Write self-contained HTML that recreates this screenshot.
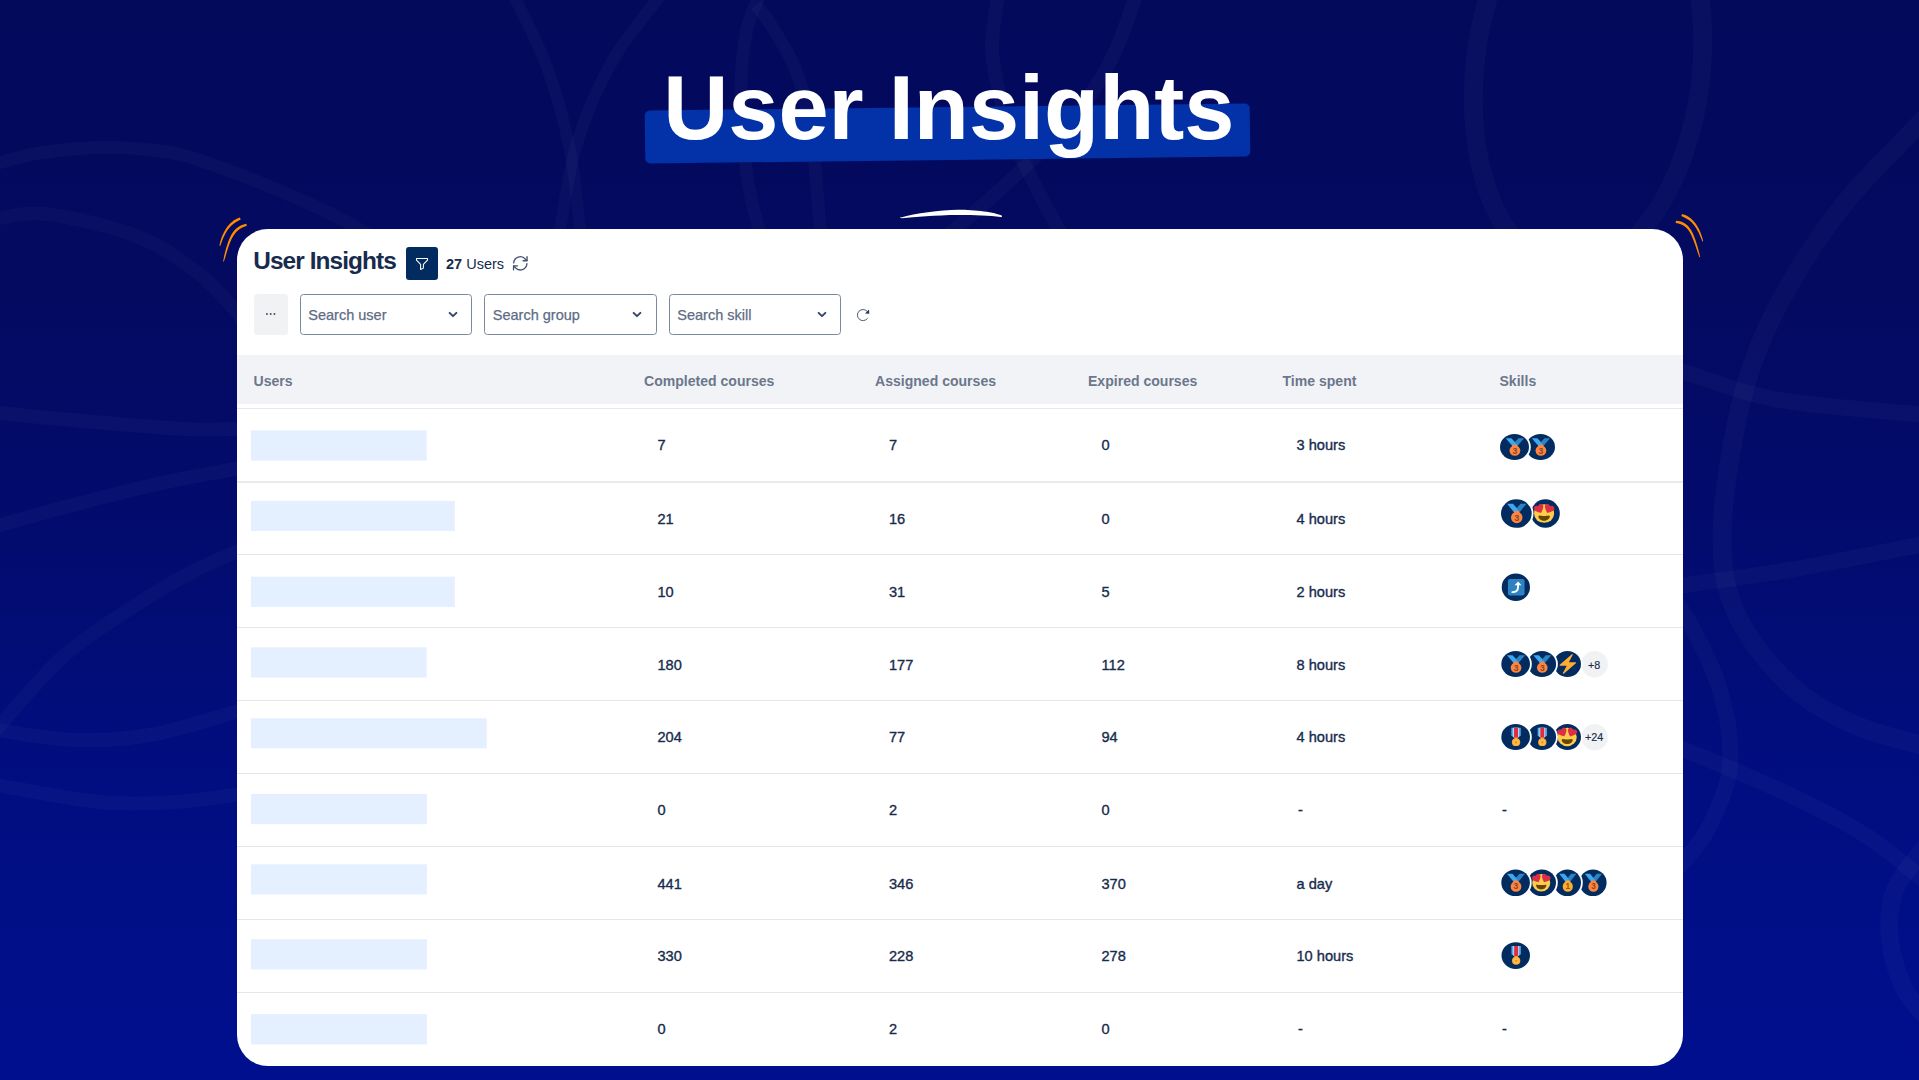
<!DOCTYPE html>
<html lang="en">
<head>
<meta charset="utf-8">
<title>User Insights</title>
<style>
*{box-sizing:border-box;margin:0;padding:0}
html,body{width:1919px;height:1080px;overflow:hidden}
body{position:relative;font-family:"Liberation Sans",sans-serif;background:linear-gradient(180deg,#030a5c 0%,#030a60 28%,#020c70 52%,#010e82 75%,#000f8e 100%);color:#172b4d}
.abs{position:absolute}
#bg{position:absolute;left:0;top:0;width:1919px;height:1080px}
#hl{position:absolute;left:645px;top:107px;width:605px;height:53px;background:#0231a8;border-radius:5px;transform:rotate(-0.66deg)}
#title{position:absolute;left:-10.700px;top:56px;width:1919px;text-align:center;font-size:90.200px;font-weight:700;color:#fff;line-height:104px;letter-spacing:0;white-space:nowrap}
#card{position:absolute;left:237px;top:229px;width:1446px;height:836.5px;background:#fff;border-radius:31px;overflow:hidden}
#card .in{position:absolute;left:-237px;top:-229px;width:1919px;height:1080px}
.h1{position:absolute;left:253.200px;top:246.200px;font-size:24.400px;font-weight:700;line-height:30px;letter-spacing:-0.900px;color:#172b4d;white-space:nowrap}
.fbtn{position:absolute;left:405.800px;top:247.200px;width:32px;height:32.600px;background:#022c60;border-radius:3px}
.cnt{position:absolute;left:446px;top:254px;font-size:14.5px;line-height:20px;color:#172b4d;white-space:nowrap}
.cnt b{font-weight:700}
.dots{position:absolute;left:253.800px;top:294.300px;width:34px;height:40.500px;background:#f1f2f4;border-radius:3px}
.sel{position:absolute;top:294px;width:172.5px;height:40.5px;border:1.700px solid #7b889f;border-radius:3.5px;background:#fff}
.sel span{position:absolute;left:7.800px;top:9.700px;font-size:14.5px;line-height:20px;color:#5e6c84;white-space:nowrap;-webkit-text-stroke:0.250px #5e6c84}
.sel svg{position:absolute;left:147.300px;top:16.100px}
.thead{position:absolute;left:237px;top:355px;width:1446px;height:49px;background:#f2f3f7}
.th{position:absolute;top:370.5px;font-size:14.050px;font-weight:700;line-height:20px;color:#6b778c;white-space:nowrap}
.ln{position:absolute;left:237px;width:1446px;height:1.5px;background:#e6e8ed}
.blk{position:absolute;left:251px;height:30px;background:#e4efff}
.v{position:absolute;font-size:14.6px;line-height:20px;color:#172b4d;white-space:nowrap;-webkit-text-stroke:0.35px #172b4d}
.sk{position:absolute}
</style>
</head>
<body>
<svg id="bg" viewBox="0 0 1919 1080" fill="none">
<g stroke="#ffffff" stroke-opacity=".029" fill="none" stroke-linecap="butt"><path d="M-12.0,168.0 C-10.0,167.1 -8.7,165.0 0.0,162.5 C8.7,160.0 23.3,155.5 40.0,153.0 C56.7,150.5 80.0,147.8 100.0,147.5 C120.0,147.2 142.0,148.4 160.0,151.0 C178.0,153.6 184.5,154.8 208.0,163.0 C231.5,171.2 275.5,188.8 301.0,200.0 C326.5,211.2 341.2,218.3 361.0,230.0 C380.8,241.7 410.2,263.3 420.0,270.0" stroke-width="13"/><path d="M-10.0,220.0 C-0.7,219.0 21.2,211.2 46.0,214.0 C70.8,216.8 113.5,227.0 139.0,237.0 C164.5,247.0 182.8,261.7 199.0,274.0 C215.2,286.3 225.8,299.2 236.0,311.0 C246.2,322.8 256.0,339.3 260.0,345.0" stroke-width="14"/><path d="M-10.0,412.0 C7.2,413.7 60.5,419.2 93.0,422.0 C125.5,424.8 161.2,427.8 185.0,429.0 C208.8,430.2 216.8,429.3 236.0,429.0 C255.2,428.7 289.3,427.3 300.0,427.0" stroke-width="14"/><path d="M-10.0,528.0 C3.2,524.3 40.3,513.5 69.0,506.0 C97.7,498.5 134.2,489.2 162.0,483.0 C189.8,476.8 213.0,473.2 236.0,469.0 C259.0,464.8 289.3,459.8 300.0,458.0" stroke-width="14"/><path d="M300.0,525.0 C289.3,529.5 253.7,544.3 236.0,552.0 C218.3,559.7 210.2,562.5 194.0,571.0 C177.8,579.5 160.5,589.0 139.0,603.0 C117.5,617.0 88.2,634.7 65.0,655.0 C41.8,675.3 12.5,711.2 0.0,725.0 C-12.5,738.8 -8.3,735.8 -10.0,738.0" stroke-width="14"/><path d="M-10.0,729.0 C4.2,730.8 48.3,739.0 75.0,740.0 C101.7,741.0 123.3,739.7 150.0,735.0 C176.7,730.3 210.0,719.5 235.0,712.0 C260.0,704.5 289.2,693.7 300.0,690.0" stroke-width="14"/><path d="M-10.0,784.0 C8.3,787.0 69.2,799.0 100.0,802.0 C130.8,805.0 152.5,803.2 175.0,802.0 C197.5,800.8 214.2,797.8 235.0,795.0 C255.8,792.2 289.2,786.7 300.0,785.0" stroke-width="14"/><path d="M511.0,-10.0 C517.0,2.8 537.2,40.3 547.0,67.0 C556.8,93.7 564.5,122.8 570.0,150.0 C575.5,177.2 577.8,211.7 580.0,230.0 C582.2,248.3 582.5,255.0 583.0,260.0" stroke-width="12"/><path d="M665.0,-10.0 C656.3,1.7 627.7,34.5 613.0,60.0 C598.3,85.5 585.8,114.7 577.0,143.0 C568.2,171.3 563.5,210.5 560.0,230.0 C556.5,249.5 556.7,255.0 556.0,260.0" stroke-width="12"/><path d="M762.0,-10.0 C759.5,-3.5 750.5,12.7 747.0,29.0 C743.5,45.3 741.0,63.7 741.0,88.0 C741.0,112.3 744.0,151.3 747.0,175.0 C750.0,198.7 755.5,215.8 759.0,230.0 C762.5,244.2 766.5,255.0 768.0,260.0" stroke-width="13"/><path d="M756.0,5.0 C758.8,8.8 766.2,16.7 773.0,28.0 C779.8,39.3 790.7,55.8 797.0,73.0 C803.3,90.2 807.7,111.5 811.0,131.0 C814.3,150.5 815.5,173.5 817.0,190.0 C818.5,206.5 819.3,218.3 820.0,230.0 C820.7,241.7 820.8,255.0 821.0,260.0" stroke-width="13"/><path d="M999.0,-10.0 C997.8,-1.0 992.2,27.7 992.0,44.0 C991.8,60.3 995.0,73.5 998.0,88.0 C1001.0,102.5 1004.7,116.5 1010.0,131.0 C1015.3,145.5 1021.8,158.5 1030.0,175.0 C1038.2,191.5 1051.0,215.8 1059.0,230.0 C1067.0,244.2 1074.8,255.0 1078.0,260.0" stroke-width="14"/><path d="M1138.0,-10.0 C1133.7,1.3 1122.7,36.8 1112.0,58.0 C1101.3,79.2 1090.0,97.5 1074.0,117.0 C1058.0,136.5 1036.0,156.2 1016.0,175.0 C996.0,193.8 970.0,216.2 954.0,230.0 C938.0,243.8 925.7,253.3 920.0,258.0" stroke-width="14"/><path d="M1929.0,114.0 C1915.7,128.0 1871.0,171.7 1849.0,198.0 C1827.0,224.3 1812.2,246.8 1797.0,272.0 C1781.8,297.2 1768.3,322.7 1758.0,349.0 C1747.7,375.3 1741.0,398.2 1735.0,430.0 C1729.0,461.8 1721.7,509.2 1722.0,540.0 C1722.3,570.8 1725.7,590.8 1737.0,615.0 C1748.3,639.2 1770.3,666.7 1790.0,685.0 C1809.7,703.3 1831.8,714.7 1855.0,725.0 C1878.2,735.3 1916.7,743.3 1929.0,747.0" stroke-width="19"/><path d="M1660.0,368.0 C1664.5,368.8 1667.2,367.7 1687.0,373.0 C1706.8,378.3 1738.7,393.0 1779.0,400.0 C1819.3,407.0 1904.0,412.5 1929.0,415.0" stroke-width="16"/><path d="M1660.0,590.0 C1664.2,589.2 1663.3,588.3 1685.0,585.0 C1706.7,581.7 1749.3,577.0 1790.0,570.0 C1830.7,563.0 1905.8,547.5 1929.0,543.0" stroke-width="16"/><path d="M1660.0,590.0 C1664.2,594.2 1675.0,598.3 1685.0,615.0 C1695.0,631.7 1712.5,665.0 1720.0,690.0 C1727.5,715.0 1731.7,742.5 1730.0,765.0 C1728.3,787.5 1717.5,809.2 1710.0,825.0 C1702.5,840.8 1693.3,850.0 1685.0,860.0 C1676.7,870.0 1664.2,880.8 1660.0,885.0" stroke-width="16"/><path d="M1660.0,742.0 C1664.2,743.3 1663.3,741.2 1685.0,750.0 C1706.7,758.8 1760.0,780.8 1790.0,795.0 C1820.0,809.2 1841.8,820.2 1865.0,835.0 C1888.2,849.8 1918.3,875.8 1929.0,884.0" stroke-width="16"/><path d="M1929.0,842.0 C1923.3,850.0 1901.5,873.7 1895.0,890.0 C1888.5,906.3 1888.3,923.3 1890.0,940.0 C1891.7,956.7 1898.5,976.7 1905.0,990.0 C1911.5,1003.3 1925.0,1015.0 1929.0,1020.0" stroke-width="18"/><ellipse cx="1588" cy="70" rx="113" ry="200" stroke-width="19" transform="rotate(7 1588 70)"/></g>
</svg>
<div id="hl"></div>
<div id="title">User Insights</div>
<svg class="abs" style="left:895px;top:205px" width="115" height="16" viewBox="895 205 115 16"><path d="M901,217.600 C915,213.500 940,209.900 958,209.800 C975,209.800 995,212.300 1002,215.800 C1002.300,216.600 1001.500,217.300 1000.500,217.100 C990,215.600 975,215.100 958,215.100 C935,215.200 915,217.200 902,218.200 C900.800,218.300 900.400,217.900 901,217.600Z" fill="#fff"/></svg>
<svg class="abs" style="left:212px;top:208px" width="44" height="60" viewBox="212 208 44 60" fill="#ff8c00"><path d="M239.91,217.47 L237.81,218.17 L235.81,219.14 L233.93,220.34 L232.13,221.71 L230.42,223.25 L228.79,224.96 L227.26,226.85 L225.82,228.93 L224.47,231.20 L223.22,233.67 L222.06,236.34 L221.01,239.22 L220.08,242.32 L219.41,245.70 L220.19,245.90 L221.41,242.74 L222.53,239.77 L223.70,237.03 L224.93,234.51 L226.23,232.21 L227.59,230.12 L229.02,228.22 L230.51,226.52 L232.06,225.00 L233.68,223.65 L235.35,222.46 L237.10,221.43 L238.88,220.47 L240.69,219.53Z"/><path d="M246.35,223.73 L243.41,224.41 L240.74,225.49 L238.36,226.91 L236.22,228.61 L234.30,230.59 L232.58,232.84 L231.04,235.36 L229.65,238.16 L228.38,241.25 L227.20,244.64 L226.09,248.33 L225.02,252.34 L223.98,256.68 L223.11,261.41 L223.89,261.59 L225.34,257.03 L226.58,252.76 L227.79,248.84 L229.01,245.25 L230.27,242.00 L231.58,239.07 L232.98,236.46 L234.48,234.17 L236.10,232.18 L237.85,230.47 L239.78,229.03 L241.91,227.83 L244.25,226.80 L246.85,225.87Z"/></svg>
<svg class="abs" style="left:1668px;top:208px" width="44" height="60" viewBox="1668 208 44 60" fill="#ff8c00"><path d="M1681.35,216.04 L1683.35,216.98 L1685.26,217.92 L1687.08,218.92 L1688.80,220.06 L1690.43,221.35 L1691.97,222.80 L1693.44,224.42 L1694.84,226.23 L1696.18,228.24 L1697.47,230.44 L1698.71,232.87 L1699.91,235.51 L1701.09,238.37 L1702.42,241.42 L1703.18,241.18 L1702.41,237.91 L1701.41,234.91 L1700.33,232.14 L1699.17,229.57 L1697.93,227.20 L1696.60,225.02 L1695.18,223.03 L1693.66,221.21 L1692.03,219.56 L1690.29,218.08 L1688.44,216.76 L1686.46,215.59 L1684.33,214.65 L1682.05,213.96Z"/><path d="M1675.67,222.89 L1678.39,223.53 L1680.78,224.30 L1682.91,225.26 L1684.82,226.48 L1686.55,228.00 L1688.14,229.83 L1689.62,232.00 L1691.01,234.53 L1692.35,237.41 L1693.65,240.66 L1694.96,244.27 L1696.30,248.26 L1697.73,252.62 L1699.42,257.31 L1700.18,257.09 L1699.06,252.22 L1697.85,247.79 L1696.65,243.72 L1695.45,240.01 L1694.22,236.64 L1692.93,233.60 L1691.53,230.87 L1690.00,228.45 L1688.28,226.34 L1686.34,224.53 L1684.16,223.03 L1681.71,221.85 L1678.97,221.07 L1675.93,220.71Z"/></svg>
<div id="card"><div class="in">
<div class="h1">User Insights</div>
<div class="fbtn"><svg class="abs" style="left:9px;top:10px" width="14" height="14" viewBox="0 0 16 16" fill="none" stroke="#fff" stroke-width="1.200" stroke-linejoin="round"><path d="M1.700 1.700h12.600v1.900l-4.700 4.700v4.400l-3.200 1.600v-6L1.700 3.600z"/></svg></div>
<div class="cnt"><b>27</b> Users</div>
<svg class="abs" style="left:511.300px;top:254.300px" width="18.600" height="18.600" viewBox="0 0 16 16" fill="none" stroke="#42526e" stroke-width="1.150" stroke-linecap="round" stroke-linejoin="round"><path d="M2.300 7.600a5.700 5.700 0 0 1 10-3.300l1.400 1.400"/><path d="M13.800 2.400v3.400h-3.400"/><path d="M13.700 8.400a5.700 5.700 0 0 1-10 3.300l-1.400-1.400"/><path d="M2.200 13.600v-3.400h3.400"/></svg>
<div class="dots"><svg class="abs" style="left:10.800px;top:18px" width="11.600" height="4.200" viewBox="0 0 11 4"><circle cx="1.800" cy="2" r="0.950" fill="#42526e"/><circle cx="5.400" cy="2" r="0.950" fill="#42526e"/><circle cx="9" cy="2" r="0.950" fill="#42526e"/></svg></div>
<div class="sel" style="left:299.5px"><span>Search user</span><svg width="10" height="8" viewBox="0 0 10 8" fill="none" stroke="#344563" stroke-width="1.900" stroke-linecap="round" stroke-linejoin="round"><path d="M1.600 1.800L5 5.200 8.400 1.800"/></svg></div>
<div class="sel" style="left:484px"><span>Search group</span><svg width="10" height="8" viewBox="0 0 10 8" fill="none" stroke="#344563" stroke-width="1.900" stroke-linecap="round" stroke-linejoin="round"><path d="M1.600 1.800L5 5.200 8.400 1.800"/></svg></div>
<div class="sel" style="left:668.5px"><span>Search skill</span><svg width="10" height="8" viewBox="0 0 10 8" fill="none" stroke="#344563" stroke-width="1.900" stroke-linecap="round" stroke-linejoin="round"><path d="M1.600 1.800L5 5.200 8.400 1.800"/></svg></div>
<svg class="abs" style="left:855px;top:307px" width="16" height="16" viewBox="0 0 16 16"><path d="M12.400 11.600A5.600 5.600 0 1 1 12.100 4.200" fill="none" stroke="#4c5b76" stroke-width="1" stroke-linecap="round"/><path d="M10 6.500L14 2.500 14.300 6.800z" fill="#253858"/></svg>
<div class="thead"></div>
<div class="th" style="left:253.5px">Users</div>
<div class="th" style="left:644px">Completed courses</div>
<div class="th" style="left:875px">Assigned courses</div>
<div class="th" style="left:1088px">Expired courses</div>
<div class="th" style="left:1282.5px">Time spent</div>
<div class="th" style="left:1499.5px">Skills</div>
<div class="ln" style="top:407.6px"></div>
<div class="ln" style="top:481.3px;background:#e8eaee"></div>
<div class="ln" style="top:553.7px;height:1.300px;background:#e4e6eb"></div>
<div class="ln" style="top:626.5px;height:1.300px;background:#e4e6eb"></div>
<div class="ln" style="top:699.85px;height:1.300px;background:#e4e6eb"></div>
<div class="ln" style="top:772.6px;height:1.300px;background:#e4e6eb"></div>
<div class="ln" style="top:845.8px;height:1.300px;background:#e4e6eb"></div>
<div class="ln" style="top:918.7px;height:1.300px;background:#e4e6eb"></div>
<div class="ln" style="top:991.5px;height:1.300px;background:#e4e6eb"></div>
<svg class="abs" style="left:240px;top:420px" width="260" height="640" viewBox="240 420 260 640"><rect x="251" y="430.4" width="175.7" height="30.2" fill="#e4efff"/><rect x="251" y="500.9" width="203.8" height="30.1" fill="#e4efff"/><rect x="251" y="576.7" width="203.8" height="30.3" fill="#e4efff"/><rect x="251" y="647.3" width="175.7" height="30.2" fill="#e4efff"/><rect x="251" y="718.3" width="235.7" height="30.0" fill="#e4efff"/><rect x="251" y="793.9" width="175.9" height="30.3" fill="#e4efff"/><rect x="251" y="864.3" width="175.9" height="30.2" fill="#e4efff"/><rect x="251" y="939.2" width="175.9" height="30.2" fill="#e4efff"/><rect x="251" y="1014.1" width="175.9" height="30.3" fill="#e4efff"/></svg>
<div class="v" style="left:657.5px;top:435.0px">7</div>
<div class="v" style="left:889px;top:435.0px">7</div>
<div class="v" style="left:1101.5px;top:435.0px">0</div>
<div class="v" style="left:1296.5px;top:435.0px">3 hours</div>
<div class="v" style="left:657.5px;top:509.40000000000003px">21</div>
<div class="v" style="left:889px;top:509.40000000000003px">16</div>
<div class="v" style="left:1101.5px;top:509.40000000000003px">0</div>
<div class="v" style="left:1296.5px;top:509.40000000000003px">4 hours</div>
<div class="v" style="left:657.5px;top:582.0999999999999px">10</div>
<div class="v" style="left:889px;top:582.0999999999999px">31</div>
<div class="v" style="left:1101.5px;top:582.0999999999999px">5</div>
<div class="v" style="left:1296.5px;top:582.0999999999999px">2 hours</div>
<div class="v" style="left:657.5px;top:654.9px">180</div>
<div class="v" style="left:889px;top:654.9px">177</div>
<div class="v" style="left:1101.5px;top:654.9px">112</div>
<div class="v" style="left:1296.5px;top:654.9px">8 hours</div>
<div class="v" style="left:657.5px;top:727.0px">204</div>
<div class="v" style="left:889px;top:727.0px">77</div>
<div class="v" style="left:1101.5px;top:727.0px">94</div>
<div class="v" style="left:1296.5px;top:727.0px">4 hours</div>
<div class="v" style="left:657.5px;top:800.0px">0</div>
<div class="v" style="left:889px;top:800.0px">2</div>
<div class="v" style="left:1101.5px;top:800.0px">0</div>
<div class="v" style="left:1298.0px;top:800.0px">-</div>
<div class="v" style="left:1502px;top:800.0px">-</div>
<div class="v" style="left:657.5px;top:874.0px">441</div>
<div class="v" style="left:889px;top:874.0px">346</div>
<div class="v" style="left:1101.5px;top:874.0px">370</div>
<div class="v" style="left:1296.5px;top:874.0px">a day</div>
<div class="v" style="left:657.5px;top:946.0px">330</div>
<div class="v" style="left:889px;top:946.0px">228</div>
<div class="v" style="left:1101.5px;top:946.0px">278</div>
<div class="v" style="left:1296.5px;top:946.0px">10 hours</div>
<div class="v" style="left:657.5px;top:1019.0px">0</div>
<div class="v" style="left:889px;top:1019.0px">2</div>
<div class="v" style="left:1101.5px;top:1019.0px">0</div>
<div class="v" style="left:1298.0px;top:1019.0px">-</div>
<div class="v" style="left:1502px;top:1019.0px">-</div>
<svg class="abs" style="left:1480px;top:420px" width="160" height="600" viewBox="1480 420 160 600"><ellipse cx="1540.50" cy="447.00" rx="16.30" ry="14.80" fill="#fff"/><ellipse cx="1540.50" cy="447.00" rx="14.50" ry="13.00" fill="#022c60"/><g transform="translate(1531.77 438.16) scale(0.5075 0.4911)"><g><path d="M18 8l-7-8H0l14 17 11.500-4.750z" fill="#3fa7ef"/><path d="M25 0l-7 8 5.400 7.300 1.200-1.500L36 0z" fill="#2b83c3"/><rect x="12.670" y="13.330" width="10.670" height="4.500" rx="2" fill="#fd8540"/><circle cx="18" cy="25.330" r="10.670" fill="#fd8540"/><text x="18" y="31.400" text-anchor="middle" font-family="Liberation Sans, sans-serif" font-weight="700" font-size="17" fill="#8f4420">3</text></g></g><ellipse cx="1514.50" cy="447.00" rx="16.30" ry="14.80" fill="#fff"/><ellipse cx="1514.50" cy="447.00" rx="14.50" ry="13.00" fill="#022c60"/><g transform="translate(1505.77 438.16) scale(0.5075 0.4911)"><g><path d="M18 8l-7-8H0l14 17 11.500-4.750z" fill="#3fa7ef"/><path d="M25 0l-7 8 5.400 7.300 1.200-1.500L36 0z" fill="#2b83c3"/><rect x="12.670" y="13.330" width="10.670" height="4.500" rx="2" fill="#fd8540"/><circle cx="18" cy="25.330" r="10.670" fill="#fd8540"/><text x="18" y="31.400" text-anchor="middle" font-family="Liberation Sans, sans-serif" font-weight="700" font-size="17" fill="#8f4420">3</text></g></g><ellipse cx="1545.40" cy="513.50" rx="16.20" ry="16.10" fill="#fff"/><ellipse cx="1545.40" cy="513.50" rx="14.40" ry="14.30" fill="#022c60"/><g transform="translate(1533.88 503.92) scale(0.5680 0.5323)"><g><circle cx="18" cy="18" r="17.600" fill="#ffcc4d"/><path transform="translate(18 22) scale(.82 .8) translate(-18 -21)" d="M18 21.850c-4.020 0-6.690-.470-9.990-1.110-.750-.140-2.220 0-2.220 2.220 0 4.440 5.100 9.990 12.210 9.990s12.210-5.550 12.210-9.990c0-2.220-1.470-2.360-2.220-2.220-3.300.640-5.970 1.110-9.990 1.110z" fill="#664500"/><path d="M16.650 3.280c-.860-2.450-3.550-3.740-6-2.880-1.840.640-3.010 2.320-3.130 4.150-1.510-1.040-3.540-1.250-5.240-.360-2.300 1.200-3.190 4.050-1.990 6.350.170.330.380.620.610.890 2.920 3.650 11.690 5.410 11.690 5.410s4.320-7.830 3.880-12.480c-.030-.360-.100-.720-.220-1.080z" fill="#dd2e44"/><path d="M19.350 3.280c.860-2.450 3.550-3.740 6-2.880 1.840.640 3.010 2.320 3.130 4.150 1.510-1.040 3.540-1.250 5.240-.360 2.300 1.200 3.190 4.050 1.990 6.350-.170.330-.380.620-.610.890-2.920 3.650-11.690 5.410-11.690 5.410s-4.320-7.830-3.880-12.480c.030-.360.100-.720.220-1.080z" fill="#dd2e44"/></g></g><ellipse cx="1516.35" cy="513.50" rx="17.15" ry="16.10" fill="#fff"/><ellipse cx="1516.35" cy="513.50" rx="15.35" ry="14.30" fill="#022c60"/><g transform="translate(1507.08 503.78) scale(0.5373 0.5402)"><g><path d="M18 8l-7-8H0l14 17 11.500-4.750z" fill="#3fa7ef"/><path d="M25 0l-7 8 5.400 7.300 1.200-1.500L36 0z" fill="#2b83c3"/><rect x="12.670" y="13.330" width="10.670" height="4.500" rx="2" fill="#fd8540"/><circle cx="18" cy="25.330" r="10.670" fill="#fd8540"/><text x="18" y="31.400" text-anchor="middle" font-family="Liberation Sans, sans-serif" font-weight="700" font-size="17" fill="#8f4420">3</text></g></g><ellipse cx="1515.85" cy="587.25" rx="15.95" ry="15.45" fill="#fff"/><ellipse cx="1515.85" cy="587.25" rx="14.15" ry="13.65" fill="#022c60"/><g transform="translate(1506.91 577.97) scale(0.5188 0.5157)"><g><rect x="2" y="2" width="32" height="32" rx="4" fill="#2f82c2"/><path d="M10.500 27.500c6.500 0 11-3.500 11-10v-4.500" fill="none" stroke="#fff" stroke-width="3.600" stroke-linecap="round"/><path d="M14.800 14.200l6.700-7.400 6.700 7.400z" fill="#fff"/></g></g><ellipse cx="1594.60" cy="664.25" rx="13.30" ry="13.25" fill="#f1f2f4"/><text x="1594.20" y="669.20" text-anchor="middle" font-family="Liberation Sans, sans-serif" font-size="10.800" fill="#172b4d" stroke="#172b4d" stroke-width=".15">+8</text><ellipse cx="1567.40" cy="664.00" rx="15.40" ry="14.80" fill="#fff"/><ellipse cx="1567.40" cy="664.00" rx="13.60" ry="13.00" fill="#022c60"/><g transform="translate(1557.87 654.12) scale(0.5516 0.5489)"><path d="M32.940 15.650C32.790 15.260 32.420 15 32 15H19.925L26.890 1.460c.220-.430.100-.950-.270-1.240C26.440.070 26.220 0 26 0c-.230 0-.470.080-.650.240L18 6.590 3.350 19.240c-.320.270-.430.710-.280 1.100S3.580 21 4 21h12.075L9.110 34.540c-.220.430-.100.950.270 1.240.180.150.400.220.620.220.230 0 .470-.080.650-.240L18 29.410l14.650-12.650c.320-.280.430-.720.290-1.110z" fill="#ffac33"/></g><ellipse cx="1541.90" cy="664.00" rx="16.00" ry="14.80" fill="#fff"/><ellipse cx="1541.90" cy="664.00" rx="14.20" ry="13.00" fill="#022c60"/><g transform="translate(1533.35 655.16) scale(0.4970 0.4911)"><g><path d="M18 8l-7-8H0l14 17 11.500-4.750z" fill="#3fa7ef"/><path d="M25 0l-7 8 5.400 7.300 1.200-1.500L36 0z" fill="#2b83c3"/><rect x="12.670" y="13.330" width="10.670" height="4.500" rx="2" fill="#fd8540"/><circle cx="18" cy="25.330" r="10.670" fill="#fd8540"/><text x="18" y="31.400" text-anchor="middle" font-family="Liberation Sans, sans-serif" font-weight="700" font-size="17" fill="#8f4420">3</text></g></g><ellipse cx="1515.65" cy="664.00" rx="16.15" ry="14.80" fill="#fff"/><ellipse cx="1515.65" cy="664.00" rx="14.35" ry="13.00" fill="#022c60"/><g transform="translate(1507.01 655.16) scale(0.5022 0.4911)"><g><path d="M18 8l-7-8H0l14 17 11.500-4.750z" fill="#3fa7ef"/><path d="M25 0l-7 8 5.400 7.300 1.200-1.500L36 0z" fill="#2b83c3"/><rect x="12.670" y="13.330" width="10.670" height="4.500" rx="2" fill="#fd8540"/><circle cx="18" cy="25.330" r="10.670" fill="#fd8540"/><text x="18" y="31.400" text-anchor="middle" font-family="Liberation Sans, sans-serif" font-weight="700" font-size="17" fill="#8f4420">3</text></g></g><ellipse cx="1594.60" cy="737.25" rx="13.30" ry="13.25" fill="#f1f2f4"/><text x="1594.20" y="740.70" text-anchor="middle" font-family="Liberation Sans, sans-serif" font-size="10.800" fill="#172b4d" stroke="#172b4d" stroke-width=".15">+24</text><ellipse cx="1567.40" cy="737.00" rx="15.40" ry="14.80" fill="#fff"/><ellipse cx="1567.40" cy="737.00" rx="13.60" ry="13.00" fill="#022c60"/><g transform="translate(1557.41 727.64) scale(0.5440 0.5200)"><g><circle cx="18" cy="18" r="17.600" fill="#ffcc4d"/><path transform="translate(18 22) scale(.82 .8) translate(-18 -21)" d="M18 21.850c-4.020 0-6.690-.470-9.990-1.110-.750-.140-2.220 0-2.220 2.220 0 4.440 5.100 9.990 12.210 9.990s12.210-5.550 12.210-9.990c0-2.220-1.470-2.360-2.220-2.220-3.300.640-5.970 1.110-9.990 1.110z" fill="#664500"/><path d="M16.650 3.280c-.860-2.450-3.550-3.740-6-2.880-1.840.640-3.010 2.320-3.130 4.150-1.510-1.040-3.540-1.250-5.240-.360-2.300 1.200-3.190 4.050-1.990 6.350.170.330.380.620.610.890 2.920 3.650 11.690 5.410 11.690 5.410s4.320-7.830 3.880-12.480c-.030-.360-.100-.720-.220-1.080z" fill="#dd2e44"/><path d="M19.350 3.280c.860-2.450 3.550-3.740 6-2.880 1.840.640 3.010 2.320 3.130 4.150 1.510-1.040 3.540-1.250 5.240-.360 2.300 1.200 3.190 4.050 1.990 6.350-.170.330-.380.620-.610.890-2.920 3.650-11.690 5.410-11.690 5.410s-4.320-7.830-3.880-12.480c.030-.360.100-.720.220-1.080z" fill="#dd2e44"/></g></g><ellipse cx="1541.90" cy="737.00" rx="16.00" ry="14.80" fill="#fff"/><ellipse cx="1541.90" cy="737.00" rx="14.20" ry="13.00" fill="#022c60"/><g transform="translate(1532.50 727.77) scale(0.5443 0.5128)"><g><path d="M9.500 0h17v15.500l-8.500 6-8.500-6z" fill="#55acee"/><path d="M13 0h10v18l-5 3.500-5-3.500z" fill="#e1e8ed"/><path d="M14.300 0h7.400v19l-3.700 2.600-3.700-2.600z" fill="#dd2e44"/><path d="M15.200 19h5.600v3h-5.600z" fill="#ffac33"/><circle cx="18" cy="28" r="7.600" fill="#ffac33"/><circle cx="18" cy="28" r="5.200" fill="#ffd983" opacity=".45"/><path d="M18 24.800l1 2.100 2.300.3-1.700 1.600.4 2.300-2-1.100-2 1.100.4-2.300-1.700-1.600 2.300-.3z" fill="#f4900c"/></g></g><ellipse cx="1515.65" cy="737.00" rx="16.15" ry="14.80" fill="#fff"/><ellipse cx="1515.65" cy="737.00" rx="14.35" ry="13.00" fill="#022c60"/><g transform="translate(1506.15 727.77) scale(0.5501 0.5128)"><g><path d="M9.500 0h17v15.500l-8.500 6-8.500-6z" fill="#55acee"/><path d="M13 0h10v18l-5 3.500-5-3.500z" fill="#e1e8ed"/><path d="M14.300 0h7.400v19l-3.700 2.600-3.700-2.600z" fill="#dd2e44"/><path d="M15.200 19h5.600v3h-5.600z" fill="#ffac33"/><circle cx="18" cy="28" r="7.600" fill="#ffac33"/><circle cx="18" cy="28" r="5.200" fill="#ffd983" opacity=".45"/><path d="M18 24.800l1 2.100 2.300.3-1.700 1.600.4 2.300-2-1.100-2 1.100.4-2.300-1.700-1.600 2.300-.3z" fill="#f4900c"/></g></g><ellipse cx="1593.00" cy="882.75" rx="15.40" ry="15.15" fill="#fff"/><ellipse cx="1593.00" cy="882.75" rx="13.60" ry="13.35" fill="#022c60"/><g transform="translate(1584.83 873.67) scale(0.4760 0.5043)"><g><path d="M18 8l-7-8H0l14 17 11.500-4.750z" fill="#3fa7ef"/><path d="M25 0l-7 8 5.400 7.300 1.200-1.500L36 0z" fill="#2b83c3"/><rect x="12.670" y="13.330" width="10.670" height="4.500" rx="2" fill="#fd8540"/><circle cx="18" cy="25.330" r="10.670" fill="#fd8540"/><text x="18" y="31.400" text-anchor="middle" font-family="Liberation Sans, sans-serif" font-weight="700" font-size="17" fill="#8f4420">3</text></g></g><ellipse cx="1567.40" cy="882.75" rx="15.40" ry="15.15" fill="#fff"/><ellipse cx="1567.40" cy="882.75" rx="13.60" ry="13.35" fill="#022c60"/><g transform="translate(1559.23 873.67) scale(0.4760 0.5043)"><g><path d="M18 8l-7-8H0l14 17 11.500-4.750z" fill="#3fa7ef"/><path d="M25 0l-7 8 5.400 7.300 1.200-1.500L36 0z" fill="#2b83c3"/><rect x="12.670" y="13.330" width="10.670" height="4.500" rx="2" fill="#ffac33"/><circle cx="18" cy="25.330" r="10.670" fill="#ffac33"/><text x="18" y="31.400" text-anchor="middle" font-family="Liberation Sans, sans-serif" font-weight="700" font-size="17" fill="#9e5200">1</text></g></g><ellipse cx="1541.85" cy="882.75" rx="15.95" ry="15.15" fill="#fff"/><ellipse cx="1541.85" cy="882.75" rx="14.15" ry="13.35" fill="#022c60"/><g transform="translate(1532.05 873.81) scale(0.5110 0.4969)"><g><circle cx="18" cy="18" r="17.600" fill="#ffcc4d"/><path transform="translate(18 22) scale(.82 .8) translate(-18 -21)" d="M18 21.850c-4.020 0-6.690-.470-9.990-1.110-.750-.140-2.220 0-2.220 2.220 0 4.440 5.100 9.990 12.210 9.990s12.210-5.550 12.210-9.990c0-2.220-1.470-2.360-2.220-2.220-3.300.640-5.970 1.110-9.990 1.110z" fill="#664500"/><path d="M16.650 3.280c-.860-2.450-3.550-3.740-6-2.880-1.840.640-3.010 2.320-3.130 4.150-1.510-1.040-3.540-1.250-5.240-.360-2.300 1.200-3.190 4.050-1.990 6.350.170.330.380.620.610.890 2.920 3.650 11.690 5.410 11.690 5.410s4.320-7.830 3.880-12.480c-.030-.360-.100-.720-.220-1.080z" fill="#dd2e44"/><path d="M19.350 3.280c.860-2.450 3.550-3.740 6-2.880 1.840.640 3.010 2.320 3.130 4.150 1.510-1.040 3.540-1.250 5.240-.360 2.300 1.200 3.190 4.050 1.990 6.350-.170.330-.380.620-.610.890-2.920 3.650-11.690 5.410-11.690 5.410s-4.320-7.830-3.880-12.480c.030-.360.100-.720.220-1.080z" fill="#dd2e44"/></g></g><ellipse cx="1515.60" cy="882.75" rx="16.10" ry="15.15" fill="#fff"/><ellipse cx="1515.60" cy="882.75" rx="14.30" ry="13.35" fill="#022c60"/><g transform="translate(1506.99 873.67) scale(0.5005 0.5043)"><g><path d="M18 8l-7-8H0l14 17 11.500-4.750z" fill="#3fa7ef"/><path d="M25 0l-7 8 5.400 7.300 1.200-1.500L36 0z" fill="#2b83c3"/><rect x="12.670" y="13.330" width="10.670" height="4.500" rx="2" fill="#fd8540"/><circle cx="18" cy="25.330" r="10.670" fill="#fd8540"/><text x="18" y="31.400" text-anchor="middle" font-family="Liberation Sans, sans-serif" font-weight="700" font-size="17" fill="#8f4420">3</text></g></g><ellipse cx="1515.75" cy="955.55" rx="16.05" ry="15.15" fill="#fff"/><ellipse cx="1515.75" cy="955.55" rx="14.25" ry="13.35" fill="#022c60"/><g transform="translate(1506.32 946.07) scale(0.5463 0.5266)"><g><path d="M9.500 0h17v15.500l-8.500 6-8.500-6z" fill="#55acee"/><path d="M13 0h10v18l-5 3.500-5-3.500z" fill="#e1e8ed"/><path d="M14.300 0h7.400v19l-3.700 2.600-3.700-2.600z" fill="#dd2e44"/><path d="M15.200 19h5.600v3h-5.600z" fill="#ffac33"/><circle cx="18" cy="28" r="7.600" fill="#ffac33"/><circle cx="18" cy="28" r="5.200" fill="#ffd983" opacity=".45"/><path d="M18 24.800l1 2.100 2.300.3-1.700 1.600.4 2.300-2-1.100-2 1.100.4-2.300-1.700-1.600 2.300-.3z" fill="#f4900c"/></g></g></svg>
</div></div>
</body>
</html>
